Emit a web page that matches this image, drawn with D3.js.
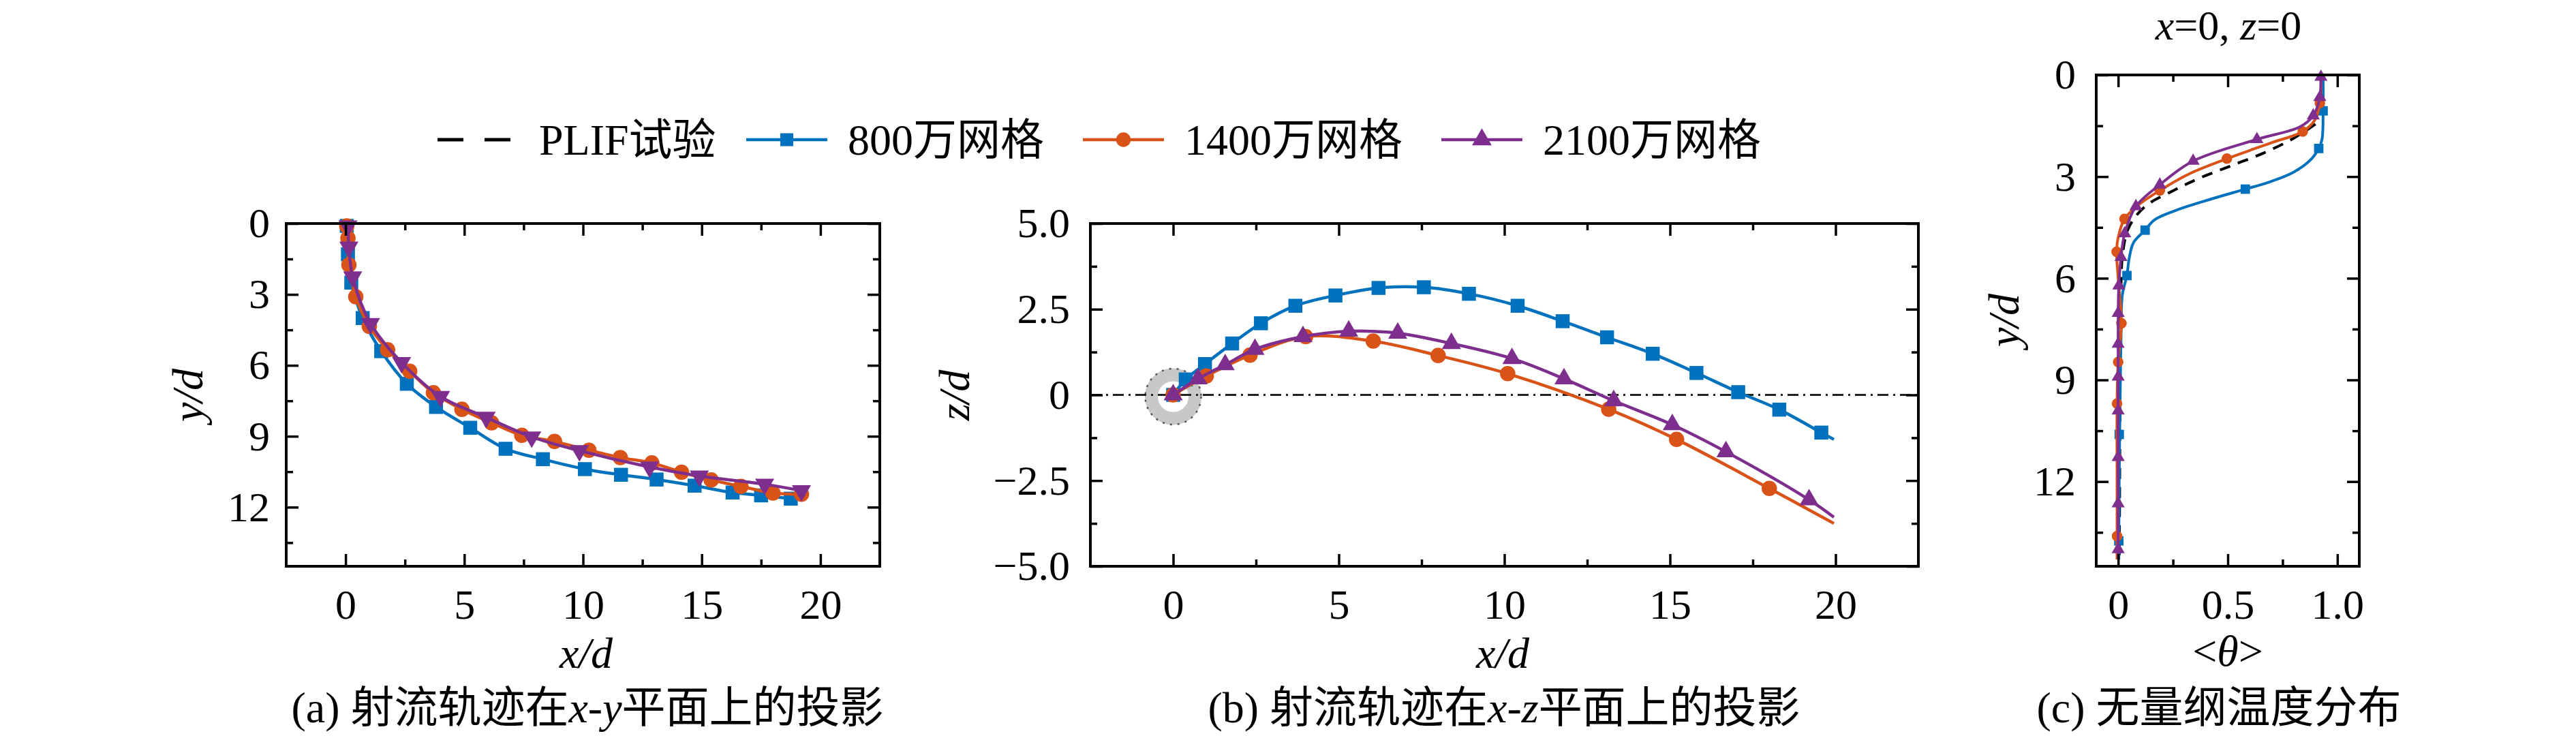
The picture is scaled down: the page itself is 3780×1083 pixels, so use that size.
<!DOCTYPE html>
<html lang="zh">
<head>
<meta charset="utf-8">
<title>射流轨迹与温度分布</title>
<script src="https://d3js.org/d3.v7.min.js"></script>
<style>
  html, body { margin: 0; padding: 0; background: #fff; }
  svg text { font-family: "Liberation Serif", "Times New Roman", "Noto Sans CJK SC", serif; fill: #000; }
</style>
</head>
<body>
<div id="chart"></div>
<script>
// ---------- data ----------
const seriesNames = ["PLIF试验", "800万网格", "1400万网格", "2100万网格"];

// (a) projection on x-y plane : x/d , y/d
const a800X = [0.05, 0.1, 0.24, 0.72, 1.5, 2.58, 3.81, 5.25, 6.74, 8.31, 10.08, 11.6, 13.1, 14.7, 16.3, 17.5, 18.75];
const a800Y = [0.1, 1.3, 2.5, 4.0, 5.4, 6.78, 7.76, 8.64, 9.53, 9.97, 10.39, 10.63, 10.83, 11.09, 11.38, 11.5, 11.64];
const a1400X = [0.05, 0.1, 0.14, 0.43, 1.0, 1.77, 2.7, 3.7, 4.9, 6.15, 7.42, 8.8, 10.25, 11.57, 12.9, 14.15, 15.4, 16.65, 18.0, 19.2];
const a1400Y = [0.1, 0.62, 1.75, 3.1, 4.35, 5.34, 6.25, 7.16, 7.86, 8.43, 8.96, 9.22, 9.59, 9.9, 10.13, 10.52, 10.85, 11.12, 11.4, 11.45];
const a2100X = [0.1, 0.14, 0.3, 1.05, 2.36, 4.0, 5.92, 7.84, 9.85, 12.8, 14.9, 17.65, 19.2];
const a2100Y = [0.1, 1.0, 2.26, 4.23, 5.88, 7.32, 8.2, 9.03, 9.61, 10.3, 10.68, 11.03, 11.3];

// (b) projection on x-z plane : x/d , z/d  (last point = end of curve, no marker)
const b800X = [0, 0.38, 0.96, 1.78, 2.65, 3.69, 4.9, 6.2, 7.57, 8.93, 10.4, 11.76, 13.1, 14.48, 15.8, 17.06, 18.3, 19.57, 19.95];
const b800Z = [0, 0.45, 0.9, 1.5, 2.09, 2.6, 2.9, 3.12, 3.14, 2.95, 2.6, 2.15, 1.68, 1.2, 0.64, 0.08, -0.43, -1.1, -1.3];
const b1400X = [0, 1.0, 2.32, 4.0, 6.04, 8.0, 10.1, 13.15, 15.2, 18.0, 19.95];
const b1400Z = [0, 0.55, 1.16, 1.7, 1.57, 1.15, 0.62, -0.42, -1.3, -2.73, -3.75];
const b2100X = [0, 0.75, 1.57, 2.47, 3.92, 5.3, 6.78, 8.4, 10.23, 11.8, 13.3, 15.07, 16.69, 19.2, 19.95];
const b2100Z = [0, 0.47, 0.88, 1.33, 1.7, 1.86, 1.8, 1.5, 1.06, 0.47, -0.17, -0.87, -1.66, -3.06, -3.57];

// (c) dimensionless temperature at x=0, z=0 : <theta> , y/d
const cPlifT = [0.9, 0.8, 0.665, 0.519, 0.373, 0.253, 0.123, 0.05, 0.022, 0.012, 0.009, 0.007, 0.005];
const cPlifY = [1.45, 1.87, 2.3, 2.67, 3.04, 3.41, 3.88, 4.48, 5.2, 6.5, 9.0, 12.2, 14.3];

const c800LineT = [0.935, 0.935, 0.93, 0.915, 0.883, 0.8, 0.685, 0.58, 0.415, 0.258, 0.165, 0.123, 0.07, 0.05, 0.04, 0.019, 0.013, 0.01, 0.007, 0.004, 0.003];
const c800LineY = [0, 1.06, 1.9, 2.17, 2.47, 2.87, 3.17, 3.37, 3.68, 4.01, 4.28, 4.58, 4.95, 5.42, 5.92, 6.49, 7.83, 9.0, 10.61, 12.5, 14.3];
const c800MarkT = [0.935, 0.915, 0.58, 0.123, 0.04, 0.005, 0.003];
const c800MarkY = [1.06, 2.17, 3.37, 4.58, 5.92, 10.61, 13.75];

const c1400LineT = [0.925, 0.925, 0.92, 0.9, 0.842, 0.7, 0.496, 0.33, 0.19, 0.09, 0.029, 0.0, -0.007, 0.0, 0.015, 0.0, -0.005, -0.005, -0.005];
const c1400LineY = [0, 0.5, 0.83, 1.3, 1.67, 2.0, 2.47, 2.9, 3.41, 3.85, 4.25, 4.8, 5.22, 6.0, 7.33, 8.47, 9.7, 12.0, 14.3];
const c1400MarkT = [0.92, 0.842, 0.496, 0.19, 0.029, -0.007, 0.015, 0.0, -0.005, -0.005];
const c1400MarkY = [0.83, 1.67, 2.47, 3.41, 4.25, 5.22, 7.33, 8.47, 9.7, 13.61];

const c2100LineT = [0.925, 0.925, 0.92, 0.89, 0.83, 0.633, 0.342, 0.19, 0.081, 0.03, 0.013, 0.003, 0.0, 0.0, 0.0, 0.0];
const c2100LineY = [0, 0.06, 0.66, 1.2, 1.53, 1.9, 2.54, 3.24, 3.88, 4.68, 5.38, 6.22, 7.06, 9.0, 12.0, 14.3];
const c2100MarkT = [0.925, 0.92, 0.89, 0.633, 0.342, 0.19, 0.081, 0.03, 0.013, 0.003, 0, 0, 0, 0, 0, 0, 0];
const c2100MarkY = [0.06, 0.66, 1.2, 1.9, 2.54, 3.24, 3.88, 4.68, 5.38, 6.22, 7.03, 7.94, 8.91, 9.91, 11.28, 12.65, 14.0];

// tick values
const trajXMajor = [0, 5, 10, 15, 20];
const trajXMinor = [2.5, 7.5, 12.5, 17.5];
const depthMajor = [0, 3, 6, 9, 12];
const depthMinor = [1.5, 4.5, 7.5, 10.5, 13.5];
const zMajor = [-5, -2.5, 0, 2.5, 5];
const zMinor = [-3.75, -1.25, 1.25, 3.75];
const zLabels = ["\u22125.0", "\u22122.5", "0", "2.5", "5.0"];
const thetaMajor = [0, 0.5, 1.0];
const thetaMinor = [0.25, 0.75];
const thetaLabels = ["0", "0.5", "1.0"];

// ---------- styling ----------
const colors = ["#000000", "#0072BD", "#D95319", "#7E2F8E"];
const W = 3780, H = 1083;
const tickFont = 62, labelFont = 64;

const svg = d3.select("#chart").append("svg")
  .attr("width", W).attr("height", H)
  .attr("viewBox", [0, 0, W, H]);

function makePanel(o) {
  const w = o.right - o.left, h = o.bottom - o.top;
  const x = d3.scaleLinear().domain(o.xDomain).range([0, w]);
  const y = d3.scaleLinear().domain(o.yDomain).range(o.yReverse ? [0, h] : [h, 0]);
  const g = svg.append("g").attr("transform", `translate(${o.left},${o.top})`);
  const plot = g.append("g");
  const axes = g.append("g");

  const style = sel => {
    sel.select(".domain").remove();
    sel.selectAll("line").attr("stroke", "#000").attr("stroke-width", 3.5);
    sel.selectAll("text").attr("font-size", tickFont).attr("font-family", null);
  };
  // labelled bottom / left, inward ticks on all four sides
  axes.append("g").attr("transform", `translate(0,${h})`)
    .call(d3.axisBottom(x).tickValues(o.xMajor).tickSize(-18).tickPadding(33)
      .tickFormat((d, i) => o.xLabels ? o.xLabels[i] : d)).call(style);
  axes.append("g").attr("transform", `translate(0,${h})`)
    .call(d3.axisBottom(x).tickValues(o.xMinor).tickSize(-10).tickFormat("")).call(style);
  axes.append("g")
    .call(d3.axisTop(x).tickValues(o.xMajor).tickSize(-18).tickFormat("")).call(style);
  axes.append("g")
    .call(d3.axisTop(x).tickValues(o.xMinor).tickSize(-10).tickFormat("")).call(style);
  axes.append("g")
    .call(d3.axisLeft(y).tickValues(o.yMajor).tickSize(-18).tickPadding(o.yPad)
      .tickFormat((d, i) => o.yLabels ? o.yLabels[i] : d)).call(style);
  axes.append("g")
    .call(d3.axisLeft(y).tickValues(o.yMinor).tickSize(-10).tickFormat("")).call(style);
  axes.append("g").attr("transform", `translate(${w},0)`)
    .call(d3.axisRight(y).tickValues(o.yMajor).tickSize(-18).tickFormat("")).call(style);
  axes.append("g").attr("transform", `translate(${w},0)`)
    .call(d3.axisRight(y).tickValues(o.yMinor).tickSize(-10).tickFormat("")).call(style);
  axes.selectAll("text").attr("fill", "#000");
  g.append("rect").attr("width", w).attr("height", h)
    .attr("fill", "none").attr("stroke", "#000").attr("stroke-width", 4);
  return { g, plot, x, y, w, h };
}

function drawLine(p, pts, color, width, dash) {
  p.plot.append("path")
    .datum(pts)
    .attr("fill", "none")
    .attr("stroke", color)
    .attr("stroke-width", width)
    .attr("stroke-dasharray", dash || null)
    .attr("d", d3.line().x(d => p.x(d[0])).y(d => p.y(d[1])).curve(d3.curveCatmullRom.alpha(0.5)));
}

function drawMarks(p, pts, color, type, size, rot) {
  p.plot.append("g").selectAll("path")
    .data(pts)
    .join("path")
    .attr("transform", d => `translate(${p.x(d[0])},${p.y(d[1])})` + (rot ? ` rotate(${rot})` : ""))
    .attr("d", d3.symbol(type, size))
    .attr("fill", color);
}

function italicText(sel, parts) {
  parts.forEach(([t, it]) => sel.append("tspan").attr("font-style", it ? "italic" : null).text(t));
}

// ---------- panel (a) ----------
const pa = makePanel({
  left: 420, right: 1291, top: 328, bottom: 831,
  xDomain: [-2.5, 22.5], yDomain: [0, 14.5], yReverse: true,
  xMajor: trajXMajor, xMinor: trajXMinor, yMajor: depthMajor, yMinor: depthMinor, yPad: 24
});
drawLine(pa, d3.zip(a800X, a800Y), colors[1], 4.5);
drawMarks(pa, d3.zip(a800X, a800Y), colors[1], d3.symbolSquare, 420);
drawLine(pa, d3.zip(a1400X, a1400Y), colors[2], 4.5);
drawMarks(pa, d3.zip(a1400X, a1400Y), colors[2], d3.symbolCircle, 400);
drawLine(pa, d3.zip(a2100X, a2100Y), colors[3], 4.5);
drawMarks(pa, d3.zip(a2100X, a2100Y), colors[3], d3.symbolTriangle, 340, 180);

// ---------- panel (b) ----------
const pb = makePanel({
  left: 1600, right: 2815, top: 328, bottom: 831,
  xDomain: [-2.5, 22.5], yDomain: [-5, 5], yReverse: false,
  xMajor: trajXMajor, xMinor: trajXMinor, yMajor: zMajor, yMinor: zMinor, yLabels: zLabels, yPad: 30
});
// jet exit ring
pb.plot.append("circle").attr("cx", pb.x(0)).attr("cy", pb.y(-0.05)).attr("r", 32)
  .attr("fill", "none").attr("stroke", "#c8c8c8").attr("stroke-width", 19);
pb.plot.append("circle").attr("cx", pb.x(0)).attr("cy", pb.y(-0.05)).attr("r", 41)
  .attr("fill", "none").attr("stroke", "#555").attr("stroke-width", 2.5).attr("stroke-dasharray", "3,8");
// z = 0 centreline
pb.plot.append("line").attr("x1", 0).attr("x2", pb.w).attr("y1", pb.y(0)).attr("y2", pb.y(0))
  .attr("stroke", "#222").attr("stroke-width", 3).attr("stroke-dasharray", "16,7,3,7");
[[b800X, b800Z, d3.symbolSquare, 420, 1], [b1400X, b1400Z, d3.symbolCircle, 400, 2], [b2100X, b2100Z, d3.symbolTriangle, 340, 3]]
  .forEach(([xs, zs, sym, size, k]) => {
    const pts = d3.zip(xs, zs);
    drawLine(pb, pts, colors[k], 4.5);
    drawMarks(pb, pts.slice(0, -1), colors[k], sym, size);
  });

// ---------- panel (c) ----------
const pc = makePanel({
  left: 3076, right: 3462, top: 110, bottom: 831,
  xDomain: [-0.1, 1.1], yDomain: [0, 14.5], yReverse: true,
  xMajor: thetaMajor, xMinor: thetaMinor, xLabels: thetaLabels,
  yMajor: depthMajor, yMinor: depthMinor, yPad: 30
});
drawLine(pc, d3.zip(cPlifT, cPlifY), colors[0], 4, "16,12");
drawLine(pc, d3.zip(c800LineT, c800LineY), colors[1], 4);
drawMarks(pc, d3.zip(c800MarkT, c800MarkY), colors[1], d3.symbolSquare, 190);
drawLine(pc, d3.zip(c1400LineT, c1400LineY), colors[2], 4);
drawMarks(pc, d3.zip(c1400MarkT, c1400MarkY), colors[2], d3.symbolCircle, 190);
drawLine(pc, d3.zip(c2100LineT, c2100LineY), colors[3], 4);
drawMarks(pc, d3.zip(c2100MarkT, c2100MarkY), colors[3], d3.symbolTriangle, 160);

// ---------- axis labels, titles, captions ----------
const txt = (x, y, anchor, size) => svg.append("text").attr("x", x).attr("y", y)
  .attr("text-anchor", anchor || "middle").attr("font-size", size || labelFont);

italicText(txt(860, 980), [["x/d", true]]);
italicText(txt(2205, 980), [["x/d", true]]);
italicText(txt(3269, 977), [["<", false], ["\u03b8", true], [">", false]]);
italicText(svg.append("text").attr("transform", "translate(297,580) rotate(-90)")
  .attr("text-anchor", "middle").attr("font-size", labelFont), [["y/d", true]]);
italicText(svg.append("text").attr("transform", "translate(1422,580) rotate(-90)")
  .attr("text-anchor", "middle").attr("font-size", labelFont), [["z/d", true]]);
italicText(svg.append("text").attr("transform", "translate(2962,470) rotate(-90)")
  .attr("text-anchor", "middle").attr("font-size", labelFont), [["y/d", true]]);
italicText(txt(3270, 58, "middle", 62), [["x", true], ["=0, ", false], ["z", true], ["=0", false]]);

italicText(txt(862, 1060), [["(a) 射流轨迹在", false], ["x", true], ["-", false], ["y", true], ["平面上的投影", false]]);
italicText(txt(2207, 1060), [["(b) 射流轨迹在", false], ["x", true], ["-", false], ["z", true], ["平面上的投影", false]]);
italicText(txt(3256, 1060), [["(c) 无量纲温度分布", false]]);

// ---------- legend ----------
const legendStart = [642, 1095, 1589, 2115];
const legendSyms = [null, d3.symbolSquare, d3.symbolCircle, d3.symbolTriangle];
const legendY = 205, legendLen = 119;
seriesNames.forEach((name, i) => {
  const lg = svg.append("g").attr("transform", `translate(${legendStart[i]},${legendY})`);
  lg.append("line").attr("x1", 0).attr("x2", legendLen)
    .attr("stroke", colors[i]).attr("stroke-width", i === 0 ? 5 : 4.5)
    .attr("stroke-dasharray", i === 0 ? "38,31" : null);
  if (legendSyms[i]) {
    lg.append("path").attr("transform", `translate(${legendLen / 2},0)`)
      .attr("d", d3.symbol(legendSyms[i], 360)).attr("fill", colors[i]);
  }
  lg.append("text").attr("x", legendLen + 30).attr("dy", "0.35em")
    .attr("font-size", labelFont).text(name);
});
</script>
</body>
</html>
